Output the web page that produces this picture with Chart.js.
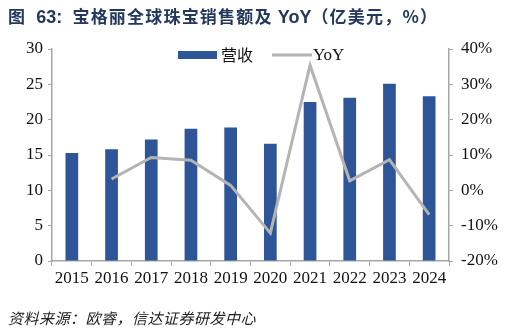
<!DOCTYPE html>
<html>
<head>
<meta charset="utf-8">
<script src="https://cdn.jsdelivr.net/npm/chart.js@4/dist/chart.umd.min.js"></script>
<style>
  body { margin: 0; background: #fff; }
  #wrap { position: relative; width: 522px; height: 331px; }
  #chart { position: absolute; left: 0; top: 0; }
  .title { position: absolute; left: 8px; top: 3px; font: bold 17px "Noto Sans CJK SC", sans-serif; color: #22385c; white-space: nowrap; letter-spacing: 1.2px; }
  .title b { font-family: "Liberation Sans", Arial, sans-serif; font-size: 18px; letter-spacing: 0; }
  .source { position: absolute; left: 8px; top: 307px; font: italic 15px "Noto Sans CJK SC", serif; color: #222; letter-spacing: 0.5px; }
</style>
</head>
<body>
<div id="wrap">
  <canvas id="chart" width="522" height="331"></canvas>
  <div class="title">图&nbsp;&nbsp;<b>63:</b>&nbsp;&nbsp;宝格丽全球珠宝销售额及 <b>YoY</b>（亿美元，%）</div>
  <div class="source">资料来源：欧睿，信达证券研发中心</div>
</div>
<script>
var years = ["2015","2016","2017","2018","2019","2020","2021","2022","2023","2024"];
var revenue = [15.3, 15.8, 17.2, 18.7, 18.9, 16.6, 22.5, 23.1, 25.1, 23.3];
var yoy = [null, 3.2, 9.3, 8.5, 1.4, -12.1, 35.4, 2.7, 8.7, -6.9];

var serif = '"Liberation Serif", "Times New Roman", serif';

// legend drawn inside the plot area, like the original
var inner_legend = {
  id: 'inner_legend',
  afterDraw: function(chart) {
    var ctx = chart.ctx;
    ctx.save();
    ctx.fillStyle = '#2E5597';
    ctx.fillRect(178, 51, 39, 8);
    ctx.font = '16px "Noto Sans CJK SC", sans-serif';
    ctx.textBaseline = 'middle';
    ctx.fillStyle = '#111';
    ctx.fillText(chart.data.datasets[0].label, 221, 55);
    ctx.strokeStyle = '#B4B4B4';
    ctx.lineWidth = 3;
    ctx.beginPath();
    ctx.moveTo(272, 55);
    ctx.lineTo(312, 55);
    ctx.stroke();
    ctx.font = '17px ' + serif;
    ctx.fillStyle = '#111';
    ctx.fillText(chart.data.datasets[1].label, 313, 56);
    ctx.restore();
  }
};

new Chart(document.getElementById('chart'), {
  type: 'bar',
  data: {
    labels: years,
    datasets: [{
      label: '营收',
      data: revenue,
      backgroundColor: '#2E5597',
      yAxisID: 'y',
      barPercentage: 0.32,
      categoryPercentage: 1,
      order: 2
    }, {
      label: 'YoY',
      type: 'line',
      data: yoy,
      borderColor: '#B4B4B4',
      borderWidth: 3,
      pointRadius: 0,
      tension: 0,
      yAxisID: 'y1',
      order: 1
    }]
  },
  options: {
    responsive: false,
    animation: false,
    layout: { padding: { top: 49, left: 0, right: 0, bottom: 0 } },
    plugins: { legend: { display: false }, tooltip: { enabled: false } },
    scales: {
      x: {
        grid: { display: true, drawOnChartArea: false, offset: true, tickLength: 5, color: '#A6A6A6' },
        border: { color: '#A6A6A6', width: 1.5 },
        ticks: { color: '#111', font: { family: serif, size: 17 }, padding: 2, maxRotation: 0, autoSkip: false },
        afterFit: function(s) { s.height = 70; }
      },
      y: {
        position: 'left',
        min: 0, max: 30,
        ticks: { stepSize: 5, color: '#111', font: { family: serif, size: 17 }, padding: 5 },
        grid: { display: true, drawOnChartArea: false, tickLength: 4, color: '#A6A6A6' },
        border: { color: '#A6A6A6', width: 1.5 },
        afterFit: function(s) { s.width = 52; }
      },
      y1: {
        position: 'right',
        min: -20, max: 40,
        ticks: { stepSize: 10, color: '#111', font: { family: serif, size: 17 }, padding: 8,
          callback: function(v) { return v + '%'; } },
        grid: { display: true, drawOnChartArea: false, tickLength: 4, color: '#A6A6A6' },
        border: { color: '#A6A6A6', width: 1.5 },
        afterFit: function(s) { s.width = 73; }
      }
    }
  },
  plugins: [inner_legend]
});
</script>
</body>
</html>
